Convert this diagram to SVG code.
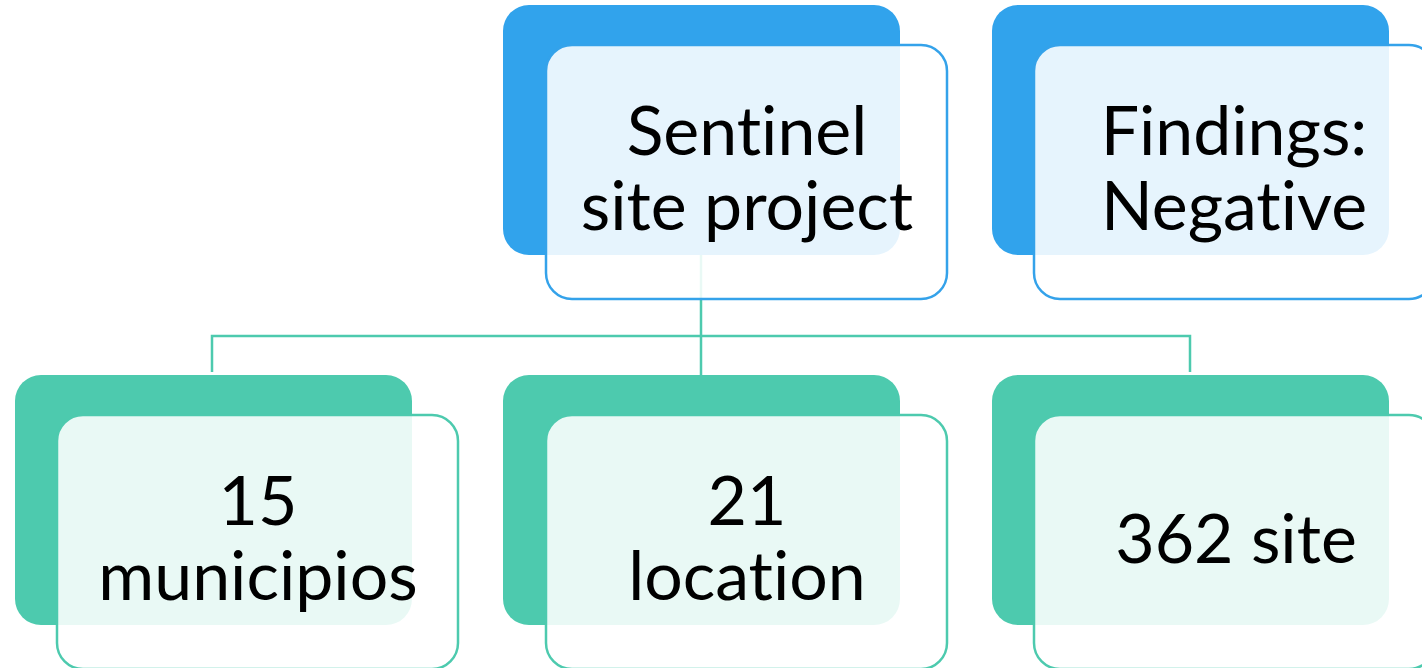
<svg xmlns="http://www.w3.org/2000/svg" width="1422" height="668" viewBox="0 0 1422 668">
<style>
.bb{fill:#31A3EC}
.bf{fill:#ffffff;fill-opacity:0.88;stroke:#34A2EA;stroke-width:2.5}
.tb{fill:#4DCAAE}
.tf{fill:#ffffff;fill-opacity:0.88;stroke:#4DCAAE;stroke-width:2.5}
.lbl{font-family:Lato,"Liberation Sans",sans-serif;font-size:68px;fill:#000;text-anchor:middle;font-variant-ligatures:none;font-feature-settings:"liga" 0}
.con{fill:none;stroke:#4DCAAE;stroke-width:2.5}
</style>
<rect width="1422" height="668" fill="#ffffff"/>
<g id="connectors">
<path class="con" d="M701 255V336M212 372V336H1190V372M701 336V375"/>
</g>
<g id="sentinel">
<rect class="bb" x="503" y="5" width="397" height="250" rx="26"/>
<rect class="bf" x="546" y="45" width="401" height="254" rx="26"/>
<text class="lbl" x="747" y="155">Sentinel</text>
<text class="lbl" x="747" y="230">site project</text>
</g>
<g id="findings">
<rect class="bb" x="992" y="5" width="397" height="250" rx="26"/>
<rect class="bf" x="1034" y="45" width="401" height="254" rx="26"/>
<text class="lbl" x="1234" y="155">Findings:</text>
<text class="lbl" x="1234" y="230">Negative</text>
</g>
<g id="municipios">
<rect class="tb" x="15" y="375" width="397" height="250" rx="26"/>
<rect class="tf" x="57" y="415" width="401" height="254" rx="26"/>
<text class="lbl" x="258" y="525">15</text>
<text class="lbl" x="258" y="600">municipios</text>
</g>
<g id="location">
<rect class="tb" x="503" y="375" width="397" height="250" rx="26"/>
<rect class="tf" x="546" y="415" width="401" height="254" rx="26"/>
<text class="lbl" x="747" y="525">21</text>
<text class="lbl" x="747" y="600">location</text>
</g>
<g id="site">
<rect class="tb" x="992" y="375" width="397" height="250" rx="26"/>
<rect class="tf" x="1034" y="415" width="401" height="254" rx="26"/>
<text class="lbl" x="1236" y="563">362 site</text>
</g>
</svg>
